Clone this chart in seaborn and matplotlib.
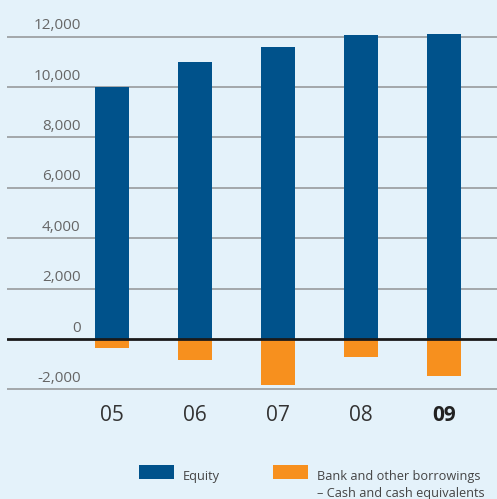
import matplotlib
matplotlib.use("Agg")
import matplotlib.pyplot as plt
import matplotlib.transforms as mtransforms
from matplotlib.patches import Rectangle
import seaborn as sns
import pandas as pd

years = ["05", "06", "07", "08", "09"]
equity = [10000, 11000, 11600, 12050, 12100]
net_debt = [-350, -820, -1820, -730, -1480]
y_ticks = [-2000, 0, 2000, 4000, 6000, 8000, 10000, 12000]
y_tick_labels = ["-2,000", "0", "2,000", "4,000", "6,000", "8,000", "10,000", "12,000"]
series_names = ["Equity", ["Bank and other borrowings", "\u2013 Cash and cash equivalents"]]

BG = "#e4f2fa"
BLUE = "#00528b"
ORANGE = "#f7901e"

sns.set_style("white")
plt.rcParams["font.family"] = ["Open Sans", "DejaVu Sans"]

W, H = 497, 499
fig = plt.figure(figsize=(W / 100, H / 100), dpi=100, facecolor=BG)
ax_left, ax_right, ax_top, ax_bot = 7, 497, 0, 395
ax = fig.add_axes([ax_left / W, 1 - ax_bot / H, (ax_right - ax_left) / W, (ax_bot - ax_top) / H])
ax.set_facecolor(BG)

df = pd.DataFrame({"year": years, "equity": equity, "net_debt": net_debt})

for v in y_ticks:
    if v != 0:
        ax.axhline(v, color="#a3a7aa", lw=1.4, zorder=0)

sns.barplot(data=df, x="year", y="equity", order=years, color=BLUE, width=0.41,
            saturation=1, ax=ax, zorder=2, linewidth=0, edgecolor="none")
sns.barplot(data=df, x="year", y="net_debt", order=years, color=ORANGE, width=0.41,
            saturation=1, ax=ax, zorder=2, linewidth=0, edgecolor="none")
ax.axhline(0, color="#1a1a1a", lw=2.0, zorder=3)

px_per_unit = 2000 / 50.4
ax.set_ylim((339 - ax_bot) * px_per_unit, 339 * px_per_unit)
ax.set_xlim(-1.265, 4.64)

for s in ax.spines.values():
    s.set_visible(False)

ax.set_yticks(y_ticks)
ax.set_yticklabels(y_tick_labels)
ax.tick_params(axis="y", length=0, pad=-53, labelsize=11, labelcolor="#666666")
ax.tick_params(axis="x", length=0, pad=7, labelsize=15, labelcolor="#333333")
ax.set_xlabel("")
ax.set_ylabel("")
offset = mtransforms.ScaledTranslation(0, 13 / 100, fig.dpi_scale_trans)
for lbl in ax.get_yticklabels():
    lbl.set_transform(lbl.get_transform() + offset)
    lbl.set_horizontalalignment("right")
for lbl in ax.get_xticklabels():
    if lbl.get_text() == "09":
        lbl.set_fontweight("bold")
        lbl.set_color("#222222")

# legend drawn in figure pixel coordinates (top-left origin)
def fx(px):
    return px / W

def fy(py):
    return 1 - py / H

legend_items = [
    (BLUE, 139, 183, [series_names[0]]),
    (ORANGE, 273, 317, series_names[1]),
]
for color, patch_x, text_x, lines in legend_items:
    fig.add_artist(Rectangle((fx(patch_x), fy(479)), 35 / W, 14 / H,
                             transform=fig.transFigure, facecolor=color, edgecolor="none"))
    for i, line in enumerate(lines):
        fig.text(fx(text_x), fy(480 + 17.5 * i), line, fontsize=9.2, color="#444444",
                 ha="left", va="baseline")

fig.savefig("out.png", dpi=100, facecolor=BG)
